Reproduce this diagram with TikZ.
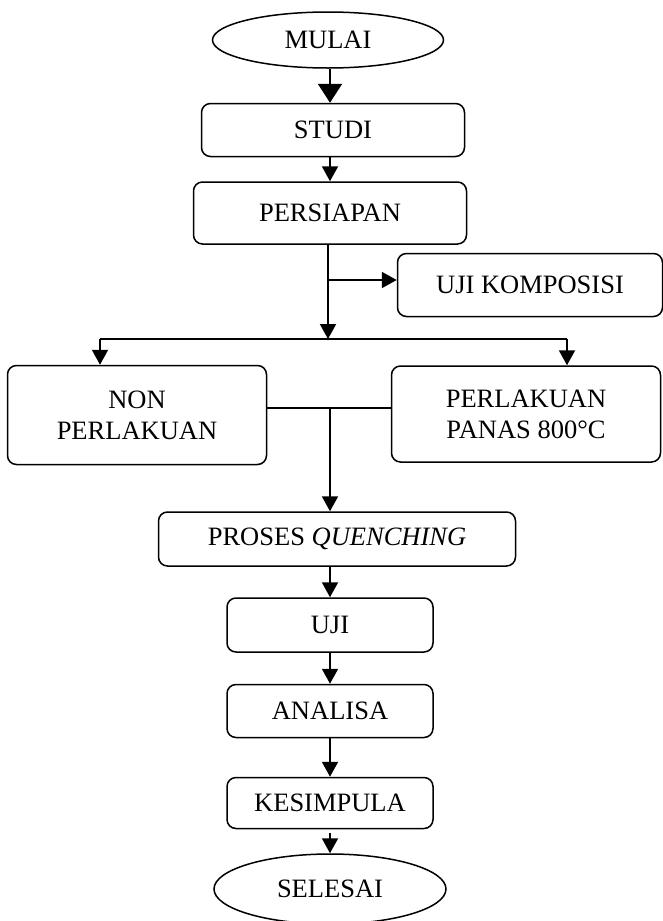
\documentclass[tikz,border=0pt]{standalone}
\usepackage{fontspec}
\setmainfont{Liberation Serif}
\usetikzlibrary{shapes.geometric,arrows.meta}

\begin{document}
\begin{tikzpicture}[x=1pt, y=-1pt,
		every node/.style={font=\fontsize{26.5}{31}\selectfont, align=center},
		kotak/.style={draw, line width=1.5pt, rounded corners=9pt, inner sep=0pt},
		elips/.style={draw, ellipse, line width=1.5pt, inner sep=0pt},
		panah/.style={line width=2pt, -{Triangle[length=15pt, width=16pt]}},
		panahbesar/.style={line width=2pt, -{Triangle[length=19pt, width=24pt]}},
		garis/.style={line width=2pt}]

	\useasboundingbox (0,0) rectangle (663,921);

	\node[elips, minimum width=231pt, minimum height=56pt] (mulai) at (328,40) {MULAI};
	\node[kotak, minimum width=263pt, minimum height=53pt] (studi) at (333,130) {STUDI};
	\node[kotak, minimum width=273pt, minimum height=62pt] (persiapan) at (330,213) {PERSIAPAN};
	\node[kotak, minimum width=265pt, minimum height=63pt] (ujikomp) at (530,285) {UJI KOMPOSISI};

	\node[kotak, minimum width=259pt, minimum height=99pt] (non) at (137,415) {NON\\PERLAKUAN};
	\node[kotak, minimum width=269pt, minimum height=96pt] (panas) at (526,414) {PERLAKUAN\\PANAS 800°C};

	\node[kotak, minimum width=357pt, minimum height=54pt] (proses) at (337,539) {PROSES \textit{QUENCHING}};
	\node[kotak, minimum width=206pt, minimum height=54pt] (uji) at (330,625) {UJI};
	\node[kotak, minimum width=206pt, minimum height=53pt] (analisa) at (330,711) {ANALISA};
	\node[kotak, minimum width=206pt, minimum height=51pt] (kesimpula) at (330,803) {KESIMPULA};
	\node[elips, minimum width=232pt, minimum height=70pt] (selesai) at (330,889) {SELESAI};

	\coordinate (cabang) at (328,280);
	\coordinate (bagi) at (328,339);
	\coordinate (bagiL) at (100,339);
	\coordinate (bagiR) at (567,339);
	\coordinate (gabung) at (330,408);

	\draw[panahbesar] (mulai.south -| 330,0) -- (studi.north -| 330,0);
	\draw[panah] (studi.south -| 330,0) -- (persiapan.north -| 330,0);
	\draw[panah] (persiapan.south -| bagi) -- (bagi);
	\draw[panah] (cabang) -- (ujikomp.west |- cabang);

	\draw[garis] (bagiL) -- (bagiR);
	\draw[panah] (bagiL) -- (bagiL |- non.north);
	\draw[panah] (bagiR) -- (bagiR |- panas.north);

	\draw[line width=1.5pt] (gabung -| non.east) -- (gabung -| panas.west);
	\draw[panah] (gabung) -- (gabung |- proses.north);

	\draw[panah] (uji.north |- proses.south) -- (uji.north);
	\draw[panah] (uji.south) -- (analisa.north);
	\draw[panah] (analisa.south) -- (kesimpula.north);
	\draw[panah] ([yshift=-4pt]kesimpula.south) -- (selesai.north);

\end{tikzpicture}
\end{document}
